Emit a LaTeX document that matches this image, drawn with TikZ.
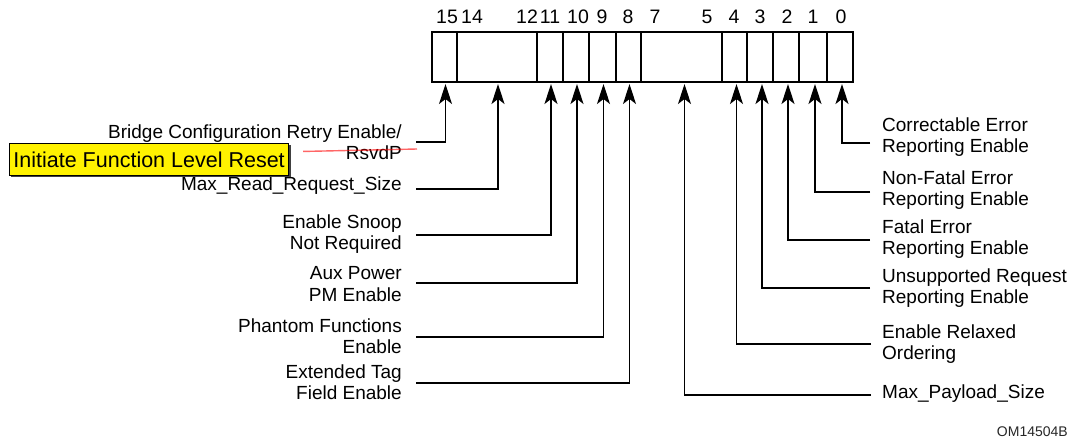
\documentclass[tikz,border=0pt]{standalone}
\usepackage{fontspec}
\setmainfont{Liberation Sans}
\usetikzlibrary{arrows.meta,shadows}
\begin{document}
\begin{tikzpicture}[x=1pt,y=-1pt,
 cell/.style={draw,line width=1.4pt,minimum height=50pt,inner sep=0pt,outer sep=0pt,anchor=north west},
 lbl/.style={font=\fontsize{19}{21.5}\selectfont,inner sep=0pt,align=right,anchor=east,text=black},
 rlbl/.style={font=\fontsize{19}{21.5}\selectfont,inner sep=0pt,align=left,anchor=west,text=black},
 bitn/.style={font=\fontsize{19.5}{21}\selectfont,inner sep=0pt,text=black},
 conn/.style={line width=1.4pt,-{Stealth[length=20pt,width=13pt,inset=5pt]},shorten >=2pt},
]
\useasboundingbox (0,0) rectangle (1072,439);
% register cells
\node[cell,minimum width=25pt] (c15) at (432,32) {};
\node[cell,minimum width=80pt] (c14) at (457,32) {};
\node[cell,minimum width=26pt] (c11) at (537,32) {};
\node[cell,minimum width=26pt] (c10) at (563,32) {};
\node[cell,minimum width=27pt] (c9) at (589,32) {};
\node[cell,minimum width=25pt] (c8) at (616,32) {};
\node[cell,minimum width=81pt] (c7) at (641,32) {};
\node[cell,minimum width=25pt] (c4) at (722,32) {};
\node[cell,minimum width=26pt] (c3) at (747,32) {};
\node[cell,minimum width=26pt] (c2) at (773,32) {};
\node[cell,minimum width=28pt] (c1) at (799,32) {};
\node[cell,minimum width=26pt] (c0) at (827,32) {};
% bit numbers
\foreach \t/\x in {15/447,14/472,12/527,11/550,10/578,9/602,8/628,7/655,5/707,4/734,3/760,2/787,1/813,0/841}
  \node[bitn] (b\t) at (\x,17) {\t};
% left labels
\node[lbl] (bcr) at (402,142) {Bridge Configuration Retry Enable/\\RsvdP};
\node[lbl] (mrr) at (402,186) {Max\_Read\_Request\_Size};
\node[lbl] (esn) at (402,234) {Enable Snoop\\Not Required};
\node[lbl] (aux) at (402,284) {Aux Power\\PM Enable};
\node[lbl] (pfe) at (402,336) {Phantom Functions\\Enable};
\node[lbl] (etf) at (402,382) {Extended Tag\\Field Enable};
% right labels
\node[rlbl] (cer) at (882,137) {Correctable Error\\Reporting Enable};
\node[rlbl] (nfe) at (882,190) {Non-Fatal Error\\Reporting Enable};
\node[rlbl] (fer) at (882,239) {Fatal Error\\Reporting Enable};
\node[rlbl] (ure) at (882,288) {Unsupported Request\\Reporting Enable};
\node[rlbl] (ero) at (882,344) {Enable Relaxed\\Ordering};
\node[rlbl] (mps) at (882,394) {Max\_Payload\_Size};
% connectors left
\draw[conn] ([xshift=14pt]bcr.east) -| ([xshift=1pt]c15.south);
\draw[conn] ([shift={(14,3)}]mrr.east) -| ([xshift=1pt]c14.south);
\draw[conn] ([shift={(14,1)}]esn.east) -| ([xshift=1pt]c11.south);
\draw[conn] ([shift={(14,-1)}]aux.east) -| ([xshift=1pt]c10.south);
\draw[conn] ([shift={(14,1)}]pfe.east) -| ([xshift=1pt]c9.south);
\draw[conn] ([shift={(14,1)}]etf.east) -| ([xshift=1pt]c8.south);
% connectors right
\draw[conn] ([shift={(-12,6)}]cer.west) -| ([xshift=2pt]c0.south);
\draw[conn] ([shift={(-12,2)}]nfe.west) -| ([xshift=2pt]c1.south);
\draw[conn] ([shift={(-12,1)}]fer.west) -| ([xshift=2pt]c2.south);
\draw[conn] ([shift={(-12,0)}]ure.west) -| ([xshift=2pt]c3.south);
\draw[conn] ([shift={(-11,0)}]ero.west) -| ([xshift=2pt]c4.south);
\draw[conn] ([shift={(-11,1)}]mps.west) -| ([xshift=3pt]c7.south);
% highlighted callout
\node[fill=yellow,draw,line width=0.9pt,
      drop shadow={shadow xshift=2pt,shadow yshift=-2pt,fill=black!75,opacity=1},
      font=\fontsize{21.5}{24}\selectfont,anchor=north west,
      minimum height=32pt,inner xsep=4pt,inner ysep=2pt] (flr) at (9,143) {Initiate Function Level Reset};
\coordinate (rend) at (417,149);
\draw[red,line width=1.4pt,opacity=0.6] ([shift={(14,-8)}]flr.east) -- (rend);
% figure id
\node[font=\fontsize{14}{16}\selectfont,anchor=east,inner sep=0pt,text=black!85] (om) at (1068,432) {OM14504B};
\end{tikzpicture}
\end{document}
